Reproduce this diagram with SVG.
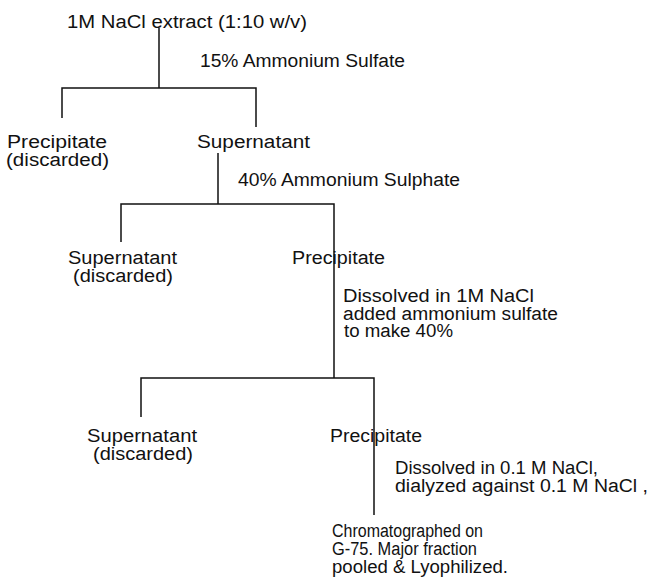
<svg xmlns="http://www.w3.org/2000/svg" width="652" height="579" viewBox="0 0 652 579">
<style>
text{font-family:"Liberation Sans",Arial,sans-serif;font-size:18px;fill:#111}
.ln{stroke:#111;stroke-width:1.5;fill:none}
</style>
<rect width="652" height="579" fill="#fff"/>
<g id="connectors">
<path class="ln" d="M159 28V88M62 118V88H256V127"/>
<path class="ln" d="M218 153V204M121 242V204H334V378"/>
<path class="ln" d="M141 417V378H374V515"/>
</g>
<g id="n-extract"><text x="67" y="28" textLength="240" lengthAdjust="spacingAndGlyphs">1M NaCl extract (1:10 w/v)</text></g>
<g id="l-15"><text x="200" y="67" textLength="205" lengthAdjust="spacingAndGlyphs">15% Ammonium Sulfate</text></g>
<g id="n-precip1"><text x="7" y="148" textLength="100" lengthAdjust="spacingAndGlyphs">Precipitate</text><text x="6" y="166" textLength="103" lengthAdjust="spacingAndGlyphs">(discarded)</text></g>
<g id="n-super1"><text x="197" y="148" textLength="113" lengthAdjust="spacingAndGlyphs">Supernatant</text></g>
<g id="l-40"><text x="238" y="186" textLength="222" lengthAdjust="spacingAndGlyphs">40% Ammonium Sulphate</text></g>
<g id="n-super2"><text x="68" y="264" textLength="109" lengthAdjust="spacingAndGlyphs">Supernatant</text><text x="73" y="282" textLength="100" lengthAdjust="spacingAndGlyphs">(discarded)</text></g>
<g id="n-precip2"><text x="292" y="264" textLength="93" lengthAdjust="spacingAndGlyphs">Precipitate</text></g>
<g id="l-dissolve1"><text x="343" y="302" textLength="191" lengthAdjust="spacingAndGlyphs">Dissolved in 1M NaCl</text><text x="343" y="320" textLength="215" lengthAdjust="spacingAndGlyphs">added ammonium sulfate</text><text x="344" y="337" textLength="109" lengthAdjust="spacingAndGlyphs">to make 40%</text></g>
<g id="n-super3"><text x="87" y="442" textLength="110" lengthAdjust="spacingAndGlyphs">Supernatant</text><text x="93" y="460" textLength="100" lengthAdjust="spacingAndGlyphs">(discarded)</text></g>
<g id="n-precip3"><text x="330" y="442" textLength="92" lengthAdjust="spacingAndGlyphs">Precipitate</text></g>
<g id="l-dissolve2"><text x="395" y="474" textLength="203" lengthAdjust="spacingAndGlyphs">Dissolved in 0.1 M NaCl,</text><text x="395" y="492" textLength="253" lengthAdjust="spacingAndGlyphs">dialyzed against 0.1 M NaCl ,</text></g>
<g id="n-chrom"><text x="332" y="537" textLength="151" lengthAdjust="spacingAndGlyphs">Chromatographed on</text><text x="332" y="555" textLength="145" lengthAdjust="spacingAndGlyphs">G-75. Major fraction</text><text x="332" y="573" textLength="176" lengthAdjust="spacingAndGlyphs">pooled &amp; Lyophilized.</text></g>
</svg>
